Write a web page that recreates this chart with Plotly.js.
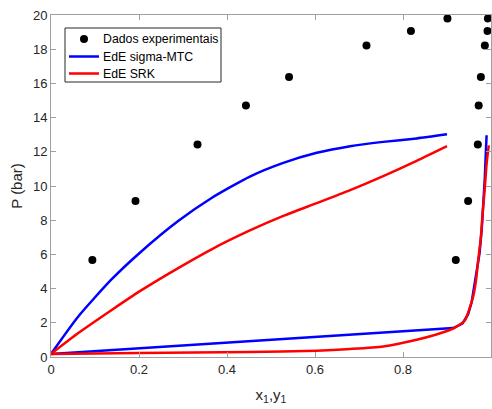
<!DOCTYPE html>
<html>
<head>
<meta charset="utf-8">
<script src="https://cdn.plot.ly/plotly-3.0.1.min.js"></script>
<style>html,body{margin:0;padding:0;background:#fff;}#chart{width:492px;height:409px;}</style>
</head>
<body>
<div id="chart"></div>
<script>
// Experimental data
const expP = [5.67, 9.13, 12.43, 14.71, 16.38, 18.21, 19.07, 19.80];
const expX = [0.094, 0.192, 0.333, 0.443, 0.541, 0.717, 0.818, 0.901];
const expY = [0.920, 0.948, 0.970, 0.972, 0.977, 0.986, 0.992, 0.993];

// EdE sigma-MTC: bubble (liquid) curve
const mtcLiqX = [0, 0.062, 0.138, 0.202, 0.289, 0.365, 0.452, 0.528, 0.604, 0.680, 0.755, 0.831, 0.900];
const mtcLiqP = [0.18, 2.37, 4.55, 6.10, 7.95, 9.30, 10.55, 11.35, 11.94, 12.33, 12.58, 12.78, 13.02];
// EdE sigma-MTC: dew (vapour) curve
const mtcVapY = [0, 0.914, 0.935, 0.948, 0.956, 0.962, 0.968, 0.974, 0.979, 0.983, 0.986, 0.988, 0.990];
const mtcVapP = [0.18, 1.69, 1.95, 2.50, 3.20, 4.10, 5.00, 6.07, 7.50, 8.98, 10.50, 11.80, 12.97];

// EdE SRK: bubble curve
const srkLiqX = [0, 0.062, 0.138, 0.202, 0.289, 0.365, 0.452, 0.528, 0.604, 0.680, 0.755, 0.831, 0.900];
const srkLiqP = [0.18, 1.40, 2.75, 3.85, 5.20, 6.30, 7.40, 8.25, 9.00, 9.76, 10.58, 11.47, 12.33];
// EdE SRK: dew curve
const srkVapY = [0, 0.200, 0.452, 0.604, 0.680, 0.755, 0.831, 0.876, 0.900, 0.918, 0.941, 0.952, 0.960, 0.966, 0.971, 0.977, 0.981, 0.986, 0.990, 0.995];
const srkVapP = [0.18, 0.23, 0.29, 0.37, 0.47, 0.62, 1.01, 1.32, 1.52, 1.72, 2.15, 2.90, 3.60, 4.50, 5.68, 7.00, 8.40, 9.90, 11.30, 12.38];

const xTicks = [0, 0.2, 0.4, 0.6, 0.8, 1];
const xTickText = ['0', '0.2', '0.4', '0.6', '0.8', '1'];
const yTicks = [0, 2, 4, 6, 8, 10, 12, 14, 16, 18, 20];

const legendNames = ['Dados experimentais', 'EdE sigma-MTC', 'EdE SRK'];

const blue = '#0000ff', red = '#ff0000';
const lw = 2.5;
const FONT = 'Liberation Sans, Arial, sans-serif';

const traces = [
  {x: expX.concat(expY), y: expP.concat(expP), type: 'scatter', mode: 'markers',
   name: legendNames[0], marker: {color: '#000', size: 8}},
  {x: mtcLiqX, y: mtcLiqP, type: 'scatter', mode: 'lines', name: legendNames[1],
   line: {color: blue, width: lw, shape: 'spline', smoothing: 0.6}},
  {x: mtcVapY, y: mtcVapP, type: 'scatter', mode: 'lines', name: legendNames[1],
   line: {color: blue, width: lw}},
  {x: srkLiqX, y: srkLiqP, type: 'scatter', mode: 'lines', name: legendNames[2],
   line: {color: red, width: lw, shape: 'spline', smoothing: 0.6}},
  {x: srkVapY, y: srkVapP, type: 'scatter', mode: 'lines', name: legendNames[2],
   line: {color: red, width: lw, shape: 'spline', smoothing: 0.6}}
];

// Legend drawn in paper coordinates (MATLAB-like compact box)
const M = {l: 51, r: 1, t: 15, b: 52};
const W = 492 - M.l - M.r, H = 409 - M.t - M.b;
const px = v => (v - M.l) / W;
const py = v => (409 - M.b - v) / H;
const rowsY = [39, 56.5, 73.5];
const shapes = [
  {type: 'rect', xref: 'paper', yref: 'paper', x0: px(65), x1: px(221), y0: py(82), y1: py(28),
   fillcolor: '#fff', line: {color: '#262626', width: 1}, layer: 'above'},
  {type: 'circle', xref: 'paper', yref: 'paper', x0: px(80), x1: px(88), y0: py(rowsY[0] + 4), y1: py(rowsY[0] - 4),
   fillcolor: '#000', line: {color: '#000', width: 0}, layer: 'above'},
  {type: 'line', xref: 'paper', yref: 'paper', x0: px(69), x1: px(99), y0: py(rowsY[1]), y1: py(rowsY[1]),
   line: {color: blue, width: lw}, layer: 'above'},
  {type: 'line', xref: 'paper', yref: 'paper', x0: px(69), x1: px(99), y0: py(rowsY[2]), y1: py(rowsY[2]),
   line: {color: red, width: lw}, layer: 'above'}
];
const annotations = legendNames.map((t, i) => ({
  text: t, xref: 'paper', yref: 'paper', x: px(101), y: py(rowsY[i]), xanchor: 'left', yanchor: 'middle',
  showarrow: false, font: {family: FONT, size: 12.3, color: '#000'}
}));

const axisCommon = {
  showgrid: false, zeroline: false, showline: true, linecolor: '#a0a0a0', linewidth: 1,
  mirror: 'ticks', ticks: 'inside', ticklen: 5, tickcolor: '#a0a0a0', tickwidth: 1,
  tickfont: {family: FONT, size: 13, color: '#262626'}
};

const layout = {
  width: 492, height: 409,
  margin: M,
  paper_bgcolor: '#fff', plot_bgcolor: '#fff',
  font: {family: FONT, size: 12, color: '#262626'},
  showlegend: false,
  shapes: shapes,
  annotations: annotations,
  xaxis: Object.assign({}, axisCommon, {range: [0, 1], tickvals: xTicks, ticktext: xTickText,
           title: {text: 'x<sub>1</sub>,y<sub>1</sub>', font: {family: FONT, size: 15, color: '#262626'}, standoff: 13}}),
  yaxis: Object.assign({}, axisCommon, {range: [0, 20], tickvals: yTicks,
           title: {text: 'P (bar)', font: {family: FONT, size: 15, color: '#262626'}, standoff: 6}})
};

Plotly.newPlot('chart', traces, layout, {displayModeBar: false, staticPlot: true});
</script>
</body>
</html>
